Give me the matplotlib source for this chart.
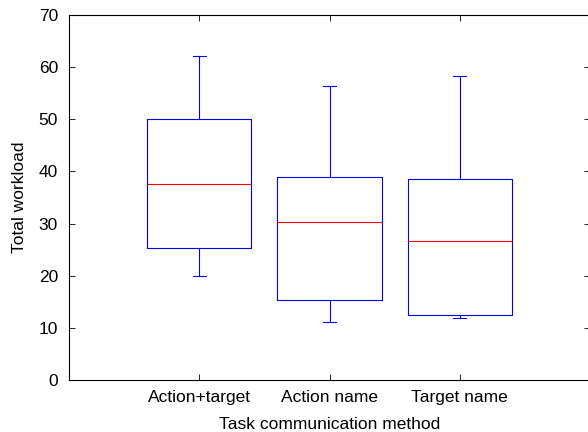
import matplotlib
matplotlib.use('Agg')
import matplotlib.pyplot as plt

plt.rcParams['font.family'] = ['Liberation Sans', 'DejaVu Sans']

# Données
methods = ['Action+target', 'Action name', 'Target name']
q1 = [25.3, 15.3, 12.4]
medians = [37.6, 30.3, 26.7]
q3 = [50.0, 39.0, 38.6]
whisk_low = [20.0, 11.1, 11.8]
whisk_high = [62.2, 56.4, 58.3]

stats = []
for i in range(len(methods)):
    stats.append({'label': methods[i], 'q1': q1[i], 'med': medians[i], 'q3': q3[i],
                  'whislo': whisk_low[i], 'whishi': whisk_high[i], 'fliers': []})

fig = plt.figure(figsize=(5.88, 4.32), dpi=100)
ax = fig.add_axes([69/588, 1 - 380/432, (590 - 69)/588, (380 - 15)/432])

blue = '#0000ff'
ax.bxp(stats, positions=[1, 2, 3], widths=0.8, capwidths=0.1, showfliers=False,
       boxprops=dict(color=blue, linewidth=0.8),
       whiskerprops=dict(color=blue, linewidth=0.8),
       capprops=dict(color=blue, linewidth=0.8),
       medianprops=dict(color='#ff0000', linewidth=0.8))

ax.set_xlim(0, 4)
ax.set_ylim(0, 70)
ax.set_yticks(range(0, 71, 10))
ax.set_xticks([1, 2, 3])
ax.set_xticklabels(methods)
ax.tick_params(direction='in', length=4, width=0.6, top=True, right=True, labelsize=12.5)
ax.tick_params(axis='y', pad=8)
ax.tick_params(axis='x', pad=7)
for s in ax.spines.values():
    s.set_linewidth(0.8)

ax.set_xlabel('Task communication method', fontsize=12.5, labelpad=9)
ax.set_ylabel('Total workload', fontsize=12.5, labelpad=8)

fig.savefig('out.png', dpi=100)
